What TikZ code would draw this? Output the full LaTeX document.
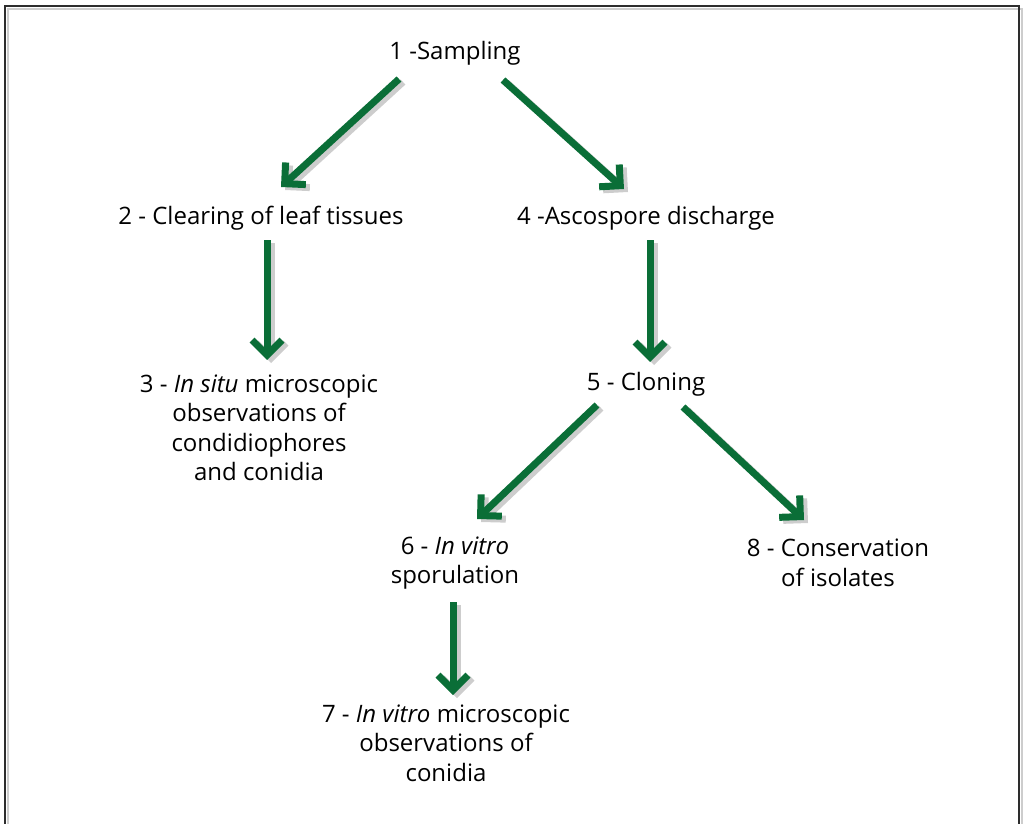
\documentclass[tikz,border=0pt]{standalone}
\usepackage{fontspec}
\setmainfont{Open Sans}
\usetikzlibrary{arrows.meta}

\begin{document}
\begin{tikzpicture}[x=1pt,y=-1pt,
  stepnode/.style={font=\fontsize{24}{29.5}\selectfont,align=center,inner sep=0pt},
  flow/.style={line width=7pt,draw=colFlow,
    -{Straight Barb[length=15pt,width=30pt,sharp]}},
  shade/.style={flow,draw=colShade,
    transform canvas={xshift=4pt,yshift=-3pt}}]
  \definecolor{colFlow} {RGB}{ 10,110, 55}
  \definecolor{colShade}{RGB}{205,205,205}
  \definecolor{colFrame}{RGB}{ 45, 45, 45}
  \useasboundingbox (0,0) rectangle (1023,824);
  % frame, open at the bottom
  \draw[colShade,line width=2.5pt] (8,824) -- (8,9) -- (1022,9) -- (1022,824);
  \draw[colFrame,line width=2pt] (5,824) -- (5,6) -- (1019,6) -- (1019,824);
  % steps
  \node[stepnode] (s1) at (455,53)  {1 -Sampling};
  \node[stepnode] (s2) at (261,218) {2 - Clearing of leaf tissues};
  \node[stepnode] (s4) at (646,218) {4 -Ascospore discharge};
  \node[stepnode] (s3) at (259,428) {3 - \textit{In situ} microscopic\\observations of\\condidiophores\\and conidia};
  \node[stepnode] (s5) at (646,384) {5 - Cloning};
  \node[stepnode] (s6) at (455,563) {6 - \textit{In vitro}\\sporulation};
  \node[stepnode] (s8) at (838,563) {8 - Conservation\\of isolates};
  \node[stepnode] (s7) at (446,743) {7 - \textit{In vitro} microscopic\\observations of\\conidia};
  % arrows: shadow first, then green
  \foreach \a/\b/\sa/\sb in {s1/s2/{(-56,26)}/{(20,-31)},
                             s1/s4/{(48,27)}/{(-22,-29)},
                             s2/s3/{(6,22)}/{(8,-68)},
                             s4/s5/{(4,22)}/{(4,-22)},
                             s5/s6/{(-49,21)}/{(22,-44)},
                             s5/s8/{(37,23)}/{(-34,-43)},
                             s6/s7/{(-2,39)}/{(7,-48)}}{
    \draw[shade] ([shift=\sa]\a.center) -- ([shift=\sb]\b.center);
    \draw[flow] ([shift=\sa]\a.center) -- ([shift=\sb]\b.center);
  }
\end{tikzpicture}
\end{document}
